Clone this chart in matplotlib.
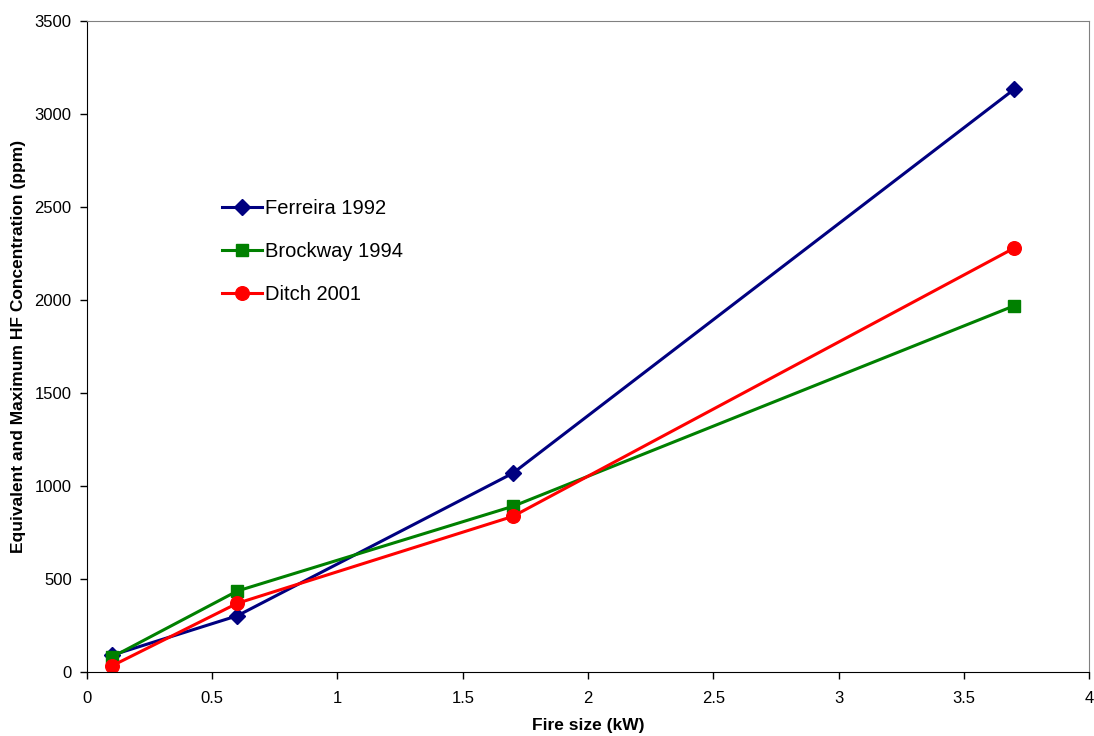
import matplotlib
matplotlib.use("Agg")
import matplotlib.pyplot as plt

plt.rcParams['font.family'] = ['Liberation Sans', 'DejaVu Sans']

fire_size = [0.1, 0.6, 1.7, 3.7]
ferreira_1992 = [90, 302, 1068, 3130]
brockway_1994 = [80, 435, 890, 1967]
ditch_2001 = [33, 369, 836, 2277]

fig = plt.figure(figsize=(10.94, 7.36), dpi=100)
ax = fig.add_axes([0.0795, 0.087, 0.916, 0.885])

ax.plot(fire_size, ferreira_1992, color='#000080', lw=2.2, marker='D', ms=8.5,
        label='Ferreira 1992')
ax.plot(fire_size, brockway_1994, color='#008000', lw=2.2, marker='s', ms=9.2,
        label='Brockway 1994')
ax.plot(fire_size, ditch_2001, color='#FF0000', lw=2.2, marker='o', ms=9.8,
        label='Ditch 2001')

ax.set_xlim(0, 4)
ax.set_ylim(0, 3500)
ax.set_xticks([0, 0.5, 1, 1.5, 2, 2.5, 3, 3.5, 4])
ax.set_xticklabels(['0', '0.5', '1', '1.5', '2', '2.5', '3', '3.5', '4'])
ax.set_yticks(range(0, 3501, 500))
ax.tick_params(direction='out', length=5, width=1, labelsize=12, colors='black')
ax.tick_params(axis='y', pad=6)
ax.tick_params(axis='x', pad=9)

for side in ('top', 'right'):
    ax.spines[side].set_color('#808080')
for side in ('left', 'bottom'):
    ax.spines[side].set_color('black')

ax.set_xlabel('Fire size (kW)', fontsize=12.5, fontweight='bold', labelpad=8)
ax.set_ylabel('Equivalent and Maximum HF Concentration (ppm)', fontsize=12.5,
              fontweight='bold', labelpad=6)

leg = ax.legend(loc='upper left', bbox_to_anchor=(0.1347, 0.7265), frameon=False,
                fontsize=14.5, handlelength=2.0, handletextpad=0.15,
                labelspacing=1.2, borderaxespad=0, borderpad=0)

fig.savefig('out.png', dpi=100)
